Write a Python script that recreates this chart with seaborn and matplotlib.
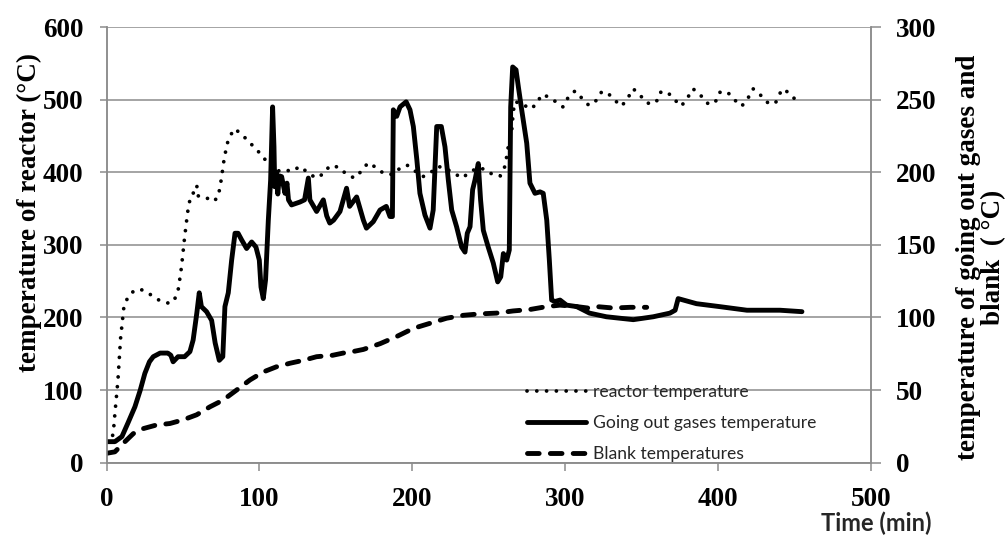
import matplotlib
matplotlib.use("Agg")
import matplotlib.pyplot as plt
import seaborn as sns

# reactor temperature, left axis (min, degC)
reactor_time = [0, 3, 4.3, 5.5, 7.4, 9.1, 11.3, 14.1, 18.5, 23, 27, 31, 35, 40, 44, 47, 49, 51,
                53, 55, 57, 59, 59.5, 63, 67, 70, 73, 75, 77, 79, 81, 84, 88.6, 92.5, 97, 102,
                105.6, 111, 116, 121, 126.5, 132, 137, 142, 146, 152, 156, 162, 167, 171, 176,
                181.5, 187, 191, 196.5, 201.6, 207, 211, 217, 222, 227, 232.6, 237, 242.5, 248,
                253, 257.6, 260.6, 262, 263, 265, 266, 267, 271.6, 277, 281, 284.7, 289, 294,
                298.6, 302, 306.5, 311, 315.6, 320, 324, 328, 332, 337, 341, 344.6, 349.5, 354,
                359.6, 362, 366.7, 371.6, 376, 380, 383.7, 388.7, 393, 398, 401, 406, 410.7,
                415.6, 419.7, 423, 428, 433, 437.6, 440.7, 443, 448, 452.5]
reactor_temp = [28, 32, 40, 70, 114, 171, 215, 229, 238, 238, 234, 228, 223, 220, 222, 240, 270, 310,
                345, 368, 372, 382, 368, 364, 364, 360, 366, 390, 420, 440, 451, 460, 451, 444, 433, 423,
                411, 401, 404, 401, 408, 399, 392, 398, 409, 407, 399, 392, 402, 413, 407,
                398, 397, 404, 410, 402, 394, 398, 408, 405, 399, 392, 399, 406, 404,
                396, 395, 408, 424, 438, 455, 481, 497, 495, 487, 493, 507, 504, 497,
                490, 503, 512, 502, 492, 498, 511, 509, 500, 491, 502, 515, 505, 495,
                496, 510, 511, 500, 491, 502, 515, 506, 495, 495, 510, 511, 500,
                491, 502, 515, 506, 495, 495, 509, 515, 506, 496]

# going out gases temperature, right axis (min, degC)
gas_time = [0, 5.4, 10, 14, 18.5, 22, 25, 28, 30.5, 35, 40, 42, 43.5, 46.7, 51, 54.5, 56.6, 59,
            60.6, 62, 65.4, 68.7, 71, 73.7, 76, 77.4, 79.6, 81.8, 84, 86, 88.3, 91.6, 94.9, 97.7,
            99.9, 101, 102.5, 104, 105.8, 107.3, 108.6, 109.5, 110, 111, 112, 113, 114.5, 116.7,
            118, 119, 121, 126.5, 129.5, 132, 133, 137.4, 141.8, 144, 146, 148.5, 152.7, 157, 159,
            163.6, 168, 170, 174.5, 178.9, 183, 185.4, 187, 187.6, 189.8, 192, 196, 198.5, 200.7,
            203, 205, 208.3, 211.6, 213.7, 216, 219, 221.4, 223.6, 225.8, 229, 232.3, 234.5, 236,
            237.8, 239.5, 241, 243.2, 244.7, 246.5, 249.7, 253, 255.9, 257.9, 259.6, 261.8, 263.5,
            264.4, 265.7, 267.9, 269.4, 271.6, 274.9, 277, 280.3, 283.6, 285.7, 288, 289.7, 291.2,
            293.4, 296.7, 301, 307.6, 316, 327, 344.6, 357.7, 368.6, 372, 374, 377.4, 386, 401,
            419, 440.6, 455]
gas_temp = [14.5, 14.5, 18, 27.5, 38.5, 50, 61.5, 69.5, 73, 75.5, 75.5, 74, 69.5, 73, 73, 76.5, 84.5, 103,
            117, 107.5, 104, 98, 82.5, 70.5, 73, 107.5, 117, 139.5, 158, 158, 153.5, 147.5, 152, 148.5,
            139.5, 121, 113, 126, 167, 194.5, 245, 217.5, 190, 200, 185, 197.5, 197, 185.5,
            192.5, 181, 177.5, 179.5, 181, 196, 181, 173, 181, 170, 165, 167, 173, 189, 176.5,
            183, 167, 161.5, 166, 174, 176.5, 169.5, 169.5, 243, 238.5, 245, 248.5, 243, 231.5,
            208.5, 185.5, 170.5, 161.5, 174, 231.5, 231.5, 217.5, 194.5, 174, 162.5, 148.5, 145, 158,
            162.5, 188, 194.5, 206, 181, 160, 148.5, 137.5, 124.5, 128, 144, 139.5, 146.5,
            245, 272.5, 270.5, 259, 243, 220, 192.5, 185.5, 186.5, 185.5, 167, 139.5, 112,
            111, 112, 108.5, 107.5, 103, 100.5, 98.5, 100.5, 103, 105, 113, 112, 109.5, 107.5,
            105, 105, 104]

# blank temperatures, right axis (min, degC)
blank_time = [0, 5.4, 11, 17.4, 24, 32.7, 41.4, 50, 58.9, 67.6, 76, 85, 93.8, 102.5, 111, 120,
              128.7, 137.4, 148, 154.8, 161, 168, 179, 190, 200.7, 211.6, 222.5, 233.4, 244.3,
              255, 266, 277, 288, 296.7, 307.6, 315, 320.7, 331.6, 342.5, 353.4]
blank_temp = [6.5, 7.5, 13.5, 20, 23.5, 26, 27, 29.5, 33, 38.5, 43, 50, 57, 62.5, 66, 68.5,
              70.5, 73, 74, 75.5, 76.5, 78, 82, 87, 92.5, 96, 99.5, 101.5, 102.5,
              103, 104.5, 105.5, 107.5, 108.5, 107.5, 106.5, 107.5, 106.5, 107, 107]

x_ticks = [0, 100, 200, 300, 400, 500]
left_ticks = [0, 100, 200, 300, 400, 500, 600]
right_ticks = [0, 50, 100, 150, 200, 250, 300]

GRAY = "#8c8c8c"

sns.set_theme(style="white")
plt.rcParams["font.family"] = ["Liberation Serif", "DejaVu Serif"]

fig, ax = plt.subplots(figsize=(10.08, 5.35), dpi=100)
fig.subplots_adjust(left=0.1058, right=0.8638, top=0.9495, bottom=0.1351)
ax2 = ax.twinx()

sns.lineplot(x=reactor_time, y=reactor_temp, ax=ax, color="black", lw=2.7,
             linestyle=(0, (0.01, 2.6)), dash_capstyle="round", sort=False,
             estimator=None, label="reactor temperature", legend=False)
sns.lineplot(x=gas_time, y=gas_temp, ax=ax2, color="black", lw=3.5, sort=False,
             estimator=None, solid_capstyle="round", solid_joinstyle="round",
             label="Going out gases temperature", legend=False)
sns.lineplot(x=blank_time, y=blank_temp, ax=ax2, color="black", lw=3.5,
             linestyle=(0, (2.4, 2.3)), dash_capstyle="round", sort=False,
             estimator=None, label="Blank temperatures", legend=False)

ax.set_xlim(0, 500)
ax.set_ylim(0, 600)
ax2.set_ylim(0, 300)
ax.set_xticks(x_ticks)
ax.set_yticks(left_ticks)
ax2.set_yticks(right_ticks)

ax.yaxis.grid(True, color=GRAY, lw=1.1)
ax.xaxis.grid(False)
for a in (ax, ax2):
    a.spines["top"].set_visible(False)
    for s in ("left", "right", "bottom"):
        a.spines[s].set_color(GRAY)
        a.spines[s].set_linewidth(1.1)

ax.tick_params(axis="x", direction="out", length=5.8, width=1.1, color=GRAY, pad=11.5,
               bottom=True, labelsize=19.5)
ax.tick_params(axis="y", direction="out", length=5, width=1.1, color=GRAY, pad=11.5,
               left=True, labelsize=19.5)
ax2.tick_params(axis="y", direction="out", length=7, width=1.1, color=GRAY, pad=11,
                right=True, labelsize=19.5)
for lab in ax.get_xticklabels() + ax.get_yticklabels() + ax2.get_yticklabels():
    lab.set_fontweight("bold")
    lab.set_color("black")

ax.set_xlabel("")
ax.set_ylabel("temperature of reactor (°C)", fontsize=19.5, fontweight="bold",
              color="black", va="center")
ax.yaxis.set_label_coords(-0.1017, 0.575)
ax2.set_ylabel("temperature of going out gases and\nblank  ( °C)", fontsize=19.5,
               fontweight="bold", color="black", va="center", linespacing=1.0,
               rotation=90)
ax2.yaxis.set_label_coords(1.145, 0.472)

fig.text(0.869, 0.021, "Time (min)", family=["Lato", "DejaVu Sans"], fontsize=17,
         fontweight="bold", ha="center", va="center")

handles = ax.get_lines()[:1] + ax2.get_lines()[:2]
labels = ["reactor temperature", "Going out gases temperature", "Blank temperatures"]
ax2.legend(handles, labels, loc="center left", bbox_to_anchor=(0.5228, 0.2093),
           bbox_transform=fig.transFigure, frameon=False, borderpad=0, borderaxespad=0,
           handlelength=3.4, handletextpad=0.4, labelspacing=0.85,
           prop={"family": ["Lato", "DejaVu Sans"], "size": 12.6})

fig.savefig("out.png", dpi=100)
